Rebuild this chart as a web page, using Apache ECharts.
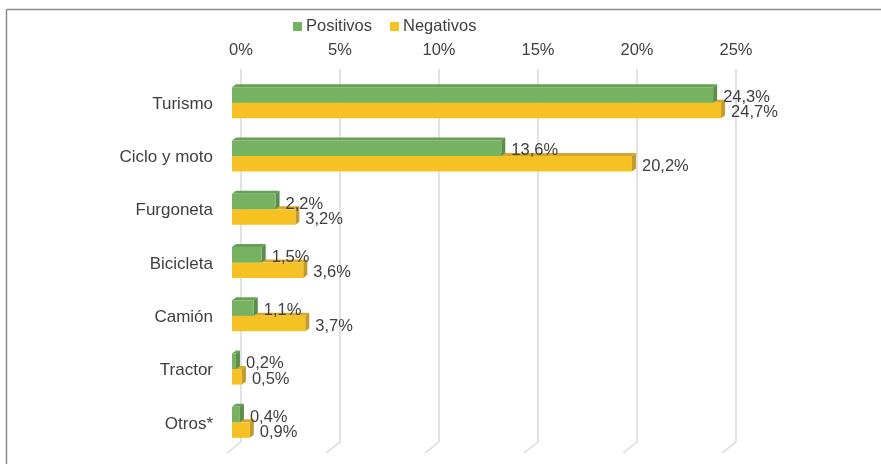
<!DOCTYPE html>
<html><head><meta charset="utf-8">
<script src="https://cdn.jsdelivr.net/npm/echarts@6/dist/echarts.min.js"></script>
<style>html,body{margin:0;padding:0;background:#fff}#c{width:881px;height:464px}</style>
</head><body><div id="c"></div>
<script>
const categories = ['Turismo','Ciclo y moto','Furgoneta','Bicicleta','Camión','Tractor','Otros*'];
const positivos = [24.3,13.6,2.2,1.5,1.1,0.2,0.4];
const negativos = [24.7,20.2,3.2,3.6,3.7,0.5,0.9];
const xTicks = [0,5,10,15,20,25];

const FONT = '"Liberation Sans", Arial, sans-serif';
const GRID_COLOR = '#D5D9DF';
const FRONT_DX = -9, FRONT_DY = 7, BAR_H = 15.5, DEPTH_X = 4, DEPTH_Y = -3;

function fmt(v){ return v.toFixed(1).replace('.', ',') + '%'; }

function makeRender(which, front, top, side){
  return function(params, api){
    const idx = api.value(1), val = api.value(0);
    const p0 = api.coord([0, idx]);
    const p1 = api.coord([val, idx]);
    const xl = p0[0] + FRONT_DX, xr = p1[0] + FRONT_DX;
    const yc = p0[1] + FRONT_DY;
    const yt = which === 0 ? yc - BAR_H : yc;
    const yb = yt + BAR_H;
    return {
      type: 'group',
      children: [
        {type:'polygon', shape:{points:[[xl,yt],[xl+DEPTH_X,yt+DEPTH_Y],[xr+DEPTH_X,yt+DEPTH_Y],[xr,yt]]}, style:{fill:top}},
        {type:'polygon', shape:{points:[[xr,yt],[xr+DEPTH_X,yt+DEPTH_Y],[xr+DEPTH_X,yb+DEPTH_Y],[xr,yb]]}, style:{fill:side}},
        {type:'rect', shape:{x:xl, y:yt, width:Math.max(xr-xl,0.5), height:BAR_H}, style:{fill:front}},
        {type:'text', style:{text:fmt(val), x:xr+10, y:(yt+yb)/2+2.5, fill:'#404040', font:'16.5px ' + FONT, verticalAlign:'middle', align:'left'}}
      ]
    };
  };
}

const chart = echarts.init(document.getElementById('c'), null, {renderer:'canvas'});
chart.setOption({
  animation: false,
  backgroundColor: '#fff',
  textStyle: {fontFamily: FONT},
  graphic: [
    {type:'line', shape:{x1:6.5,y1:9.5,x2:881,y2:9.5}, style:{stroke:'#8C8C8C', lineWidth:1.5}},
    {type:'line', shape:{x1:6.5,y1:9.5,x2:6.5,y2:464}, style:{stroke:'#8C8C8C', lineWidth:1.5}}
  ],
  legend: {
    data: ['Positivos','Negativos'],
    top: 13, left: 288,
    icon: 'rect', itemWidth: 9, itemHeight: 9, itemGap: 18,
    textStyle: {fontSize: 16.5, color: '#404040', fontFamily: FONT, padding:[0,0,0,-1]}
  },
  grid: {left: 241, right: 145, top: 69, bottom: 22},
  xAxis: {
    type: 'value', position: 'top', min: 0, max: 25, interval: 5,
    axisLine: {show:false}, axisTick: {show:false},
    axisLabel: {formatter: '{value}%', fontSize: 16.5, color: '#404040', margin: 10, fontFamily: FONT},
    splitLine: {show:true, lineStyle:{color:GRID_COLOR, width:1.5}}
  },
  yAxis: {
    type: 'category', data: categories, inverse: true,
    axisLine: {show:false}, axisTick: {show:false},
    axisLabel: {fontSize: 17, color: '#404040', margin: 28, fontFamily: FONT, verticalAlign: 'top'}
  },
  series: [
    {
      name: 'floor', type: 'custom', silent: true, z: 1,
      data: xTicks.map(v => [v, 0]),
      encode: {x:0, y:1},
      renderItem: function(params, api){
        const cs = params.coordSys;
        const x = api.coord([api.value(0), 0])[0];
        const b = cs.y + cs.height;
        return {type:'line', shape:{x1:x, y1:b, x2:x-14, y2:b+11}, style:{stroke:GRID_COLOR, lineWidth:1.5}};
      }
    },
    {
      name: 'Negativos', type: 'custom', z: 2,
      itemStyle: {color: '#F6C223'},
      data: negativos.map((v,i) => [v, i]),
      encode: {x:0, y:1},
      renderItem: makeRender(1, '#F6C223', '#D6A72E', '#C39A2B')
    },
    {
      name: 'Positivos', type: 'custom', z: 3,
      itemStyle: {color: '#77B263'},
      data: positivos.map((v,i) => [v, i]),
      encode: {x:0, y:1},
      renderItem: makeRender(0, '#77B263', '#66A052', '#5B8E4B')
    }
  ]
});
</script></body></html>
